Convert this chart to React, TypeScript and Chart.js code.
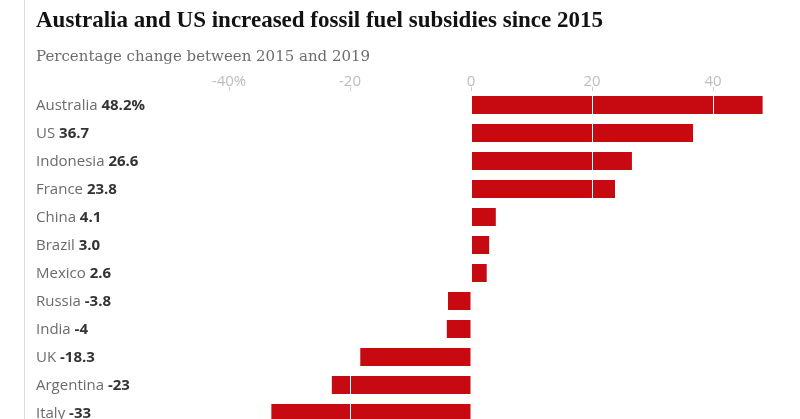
import React, { useEffect, useRef } from "react";
import { Chart, registerables } from "chart.js";

Chart.register(...registerables);

const countries = ["Australia", "US", "Indonesia", "France", "China", "Brazil", "Mexico", "Russia", "India", "UK", "Argentina", "Italy"];
const changes = [48.2, 36.7, 26.6, 23.8, 4.1, 3.0, 2.6, -3.8, -4, -18.3, -23, -33];
const valueLabels = ["48.2%", "36.7", "26.6", "23.8", "4.1", "3.0", "2.6", "-3.8", "-4", "-18.3", "-23", "-33"];
const tickValues = [-40, -20, 0, 20, 40];
const tickLabels = ["-40%", "-20", "0", "20", "40"];

const titleText = "Australia and US increased fossil fuel subsidies since 2015";
const subtitleText = "Percentage change between 2015 and 2019";

const labelFont = '"Open Sans", "Noto Sans", sans-serif';

const rowLabelsPlugin = {
  id: "rowLabels",
  afterDraw(chart: any) {
    const ctx = chart.ctx;
    const yScale = chart.scales.y;
    ctx.save();
    ctx.textBaseline = "middle";
    ctx.textAlign = "left";
    countries.forEach((name, i) => {
      const y = yScale.getPixelForValue(i) + 1;
      ctx.font = `15px ${labelFont}`;
      ctx.fillStyle = "#6c6c6c";
      const text = name + " ";
      ctx.fillText(text, 36, y);
      const w = ctx.measureText(text).width;
      ctx.font = `bold 15px ${labelFont}`;
      ctx.fillStyle = "#333333";
      ctx.fillText(valueLabels[i], 36 + w, y);
    });
    ctx.restore();
  },
};

export default function App() {
  const canvasRef = useRef<HTMLCanvasElement | null>(null);

  useEffect(() => {
    if (!canvasRef.current) return;
    const chart = new Chart(canvasRef.current, {
      type: "bar",
      data: {
        labels: countries,
        datasets: [
          {
            data: changes,
            backgroundColor: "#c70a12",
            borderWidth: 0,
            barPercentage: 0.643,
            categoryPercentage: 1,
          },
        ],
      },
      options: {
        indexAxis: "y",
        animation: false,
        responsive: false,
        devicePixelRatio: 1,
        layout: { padding: { left: 229, right: 26.5, top: 71, bottom: 3 } },
        plugins: {
          legend: { display: false },
          tooltip: { enabled: false },
          title: { display: false },
        },
        scales: {
          x: {
            type: "linear",
            position: "top",
            min: -40,
            max: 50,
            afterFit: (scale: any) => {
              scale.height = 20;
            },
            afterBuildTicks: (scale: any) => {
              scale.ticks = tickValues.map((v) => ({ value: v }));
            },
            grid: {
              color: "#ffffff",
              lineWidth: 1,
              z: 1,
              drawTicks: true,
              tickLength: 4,
              tickColor: "#cccccc",
            },
            border: { display: false },
            ticks: {
              padding: -4,
              color: "#bdbdbd",
              font: { family: labelFont, size: 15 },
              callback: (value: any) => {
                const idx = tickValues.indexOf(Number(value));
                return idx >= 0 ? tickLabels[idx] : "";
              },
            },
          },
          y: {
            type: "category",
            display: false,
          },
        },
      },
      plugins: [rowLabelsPlugin],
    });
    return () => chart.destroy();
  }, []);

  return (
    <div style={{ position: "absolute", left: 0, top: 0, width: 800, height: 419, overflow: "hidden", background: "#fff" }}>
      <div style={{ position: "absolute", left: 24, top: 0, width: 1, height: 419, background: "#dcdcdc" }} />
      <canvas ref={canvasRef} width={800} height={430} style={{ position: "absolute", left: 0, top: 0, width: 800, height: 430 }} />
      <div
        style={{
          position: "absolute",
          left: 36,
          top: 8,
          fontFamily: '"Liberation Serif", serif',
          fontWeight: "bold",
          fontSize: 23,
          lineHeight: "23px",
          color: "#121212",
          whiteSpace: "nowrap",
        }}
      >
        {titleText}
      </div>
      <div
        style={{
          position: "absolute",
          left: 36,
          top: 47,
          fontFamily: '"DejaVu Serif", serif',
          fontSize: 15,
          lineHeight: "18px",
          color: "#6c6c6c",
          whiteSpace: "nowrap",
        }}
      >
        {subtitleText}
      </div>
    </div>
  );
}
